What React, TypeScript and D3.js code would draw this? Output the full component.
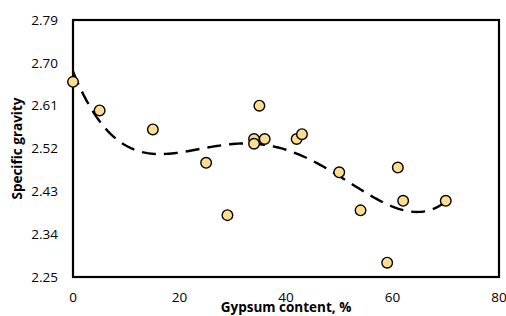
import { useEffect, useRef } from "react"
import * as d3 from "d3"

// gypsum content (%) and measured specific gravity
const gypsum = [0, 5, 15, 25, 29, 34, 34, 35, 36, 42, 43, 50, 54, 59, 61, 62, 70]
const gravity = [2.66, 2.6, 2.56, 2.49, 2.38, 2.54, 2.53, 2.61, 2.54, 2.54, 2.55, 2.47, 2.39, 2.28, 2.48, 2.41, 2.41]
const xTicks = [0, 20, 40, 60, 80]
const yTicks = [2.25, 2.34, 2.43, 2.52, 2.61, 2.7, 2.79]
const trendOrder = 4

// least squares polynomial (Excel style trendline)
function polyFit(xs: number[], ys: number[], order: number) {
  const s = 70
  const n = order + 1
  const A: number[][] = Array.from({ length: n }, () => new Array(n + 1).fill(0))
  xs.forEach((x0, k) => {
    const x = x0 / s
    for (let i = 0; i < n; i++) {
      for (let j = 0; j < n; j++) A[i][j] += Math.pow(x, i + j)
      A[i][n] += ys[k] * Math.pow(x, i)
    }
  })
  for (let c = 0; c < n; c++) {
    let p = c
    for (let r = c + 1; r < n; r++) if (Math.abs(A[r][c]) > Math.abs(A[p][c])) p = r
    ;[A[c], A[p]] = [A[p], A[c]]
    for (let r = 0; r < n; r++) {
      if (r === c) continue
      const f = A[r][c] / A[c][c]
      for (let k = c; k <= n; k++) A[r][k] -= f * A[c][k]
    }
  }
  const coef = A.map((row, i) => row[n] / row[i])
  return (x0: number) => coef.reduce((acc, c, i) => acc + c * Math.pow(x0 / s, i), 0)
}

export default function App() {
  const svgRef = useRef<SVGSVGElement>(null)

  useEffect(() => {
    const svg = d3.select(svgRef.current)
    svg.selectAll("*").remove()

    const W = 506, H = 316
    const margin = { top: 20, right: 7, bottom: 39, left: 73 }
    const width = W - margin.left - margin.right
    const height = H - margin.top - margin.bottom
    const font = "'Open Sans', sans-serif"

    svg.attr("width", W).attr("height", H)
    const g = svg.append("g").attr("transform", `translate(${margin.left},${margin.top})`)

    const x = d3.scaleLinear().domain([0, 80]).range([0, width])
    const y = d3.scaleLinear().domain([2.25, 2.79]).range([height, 0])

    // frame
    g.append("rect")
      .attr("width", width).attr("height", height)
      .attr("fill", "none").attr("stroke", "#000").attr("stroke-width", 2.2)

    // ticks labels
    g.append("g").selectAll("text").data(xTicks).enter().append("text")
      .attr("x", d => x(d)).attr("y", height + 25)
      .attr("text-anchor", "middle")
      .style("font-family", font).style("font-size", "13.5px").attr("fill", "#000")
      .text(d => d)

    g.append("g").selectAll("text").data(yTicks).enter().append("text")
      .attr("x", -15).attr("y", d => y(d)).attr("dy", "0.35em")
      .attr("text-anchor", "end")
      .style("font-family", font).style("font-size", "13.5px").attr("fill", "#000")
      .text(d => d.toFixed(2))

    // trendline
    const f = polyFit(gypsum, gravity, trendOrder)
    const xs = d3.range(0, 70.01, 0.5)
    g.append("path")
      .datum(xs)
      .attr("fill", "none").attr("stroke", "#000").attr("stroke-width", 2.4)
      .attr("stroke-dasharray", "14,8")
      .attr("d", d3.line<number>().x(d => x(d)).y(d => y(f(d))))

    // points
    g.append("g").selectAll("circle").data(gypsum).enter().append("circle")
      .attr("cx", d => x(d)).attr("cy", (d, i) => y(gravity[i]))
      .attr("r", 5.3)
      .attr("fill", "#FFDD8E").attr("stroke", "#000").attr("stroke-width", 1.4)

    // axis titles
    svg.append("text")
      .attr("x", margin.left + width / 2).attr("y", H - 4)
      .attr("text-anchor", "middle")
      .style("font-family", font).style("font-size", "13.5px").style("font-weight", "bold")
      .text("Gypsum content, %")

    svg.append("text")
      .attr("transform", `translate(22,${margin.top + height / 2}) rotate(-90)`)
      .attr("text-anchor", "middle")
      .style("font-family", font).style("font-size", "13.5px").style("font-weight", "bold")
      .text("Specific gravity")
  }, [])

  return (
    <div style={{ position: "absolute", left: 0, top: 0 }}>
      <svg ref={svgRef} style={{ display: "block" }}></svg>
    </div>
  )
}
